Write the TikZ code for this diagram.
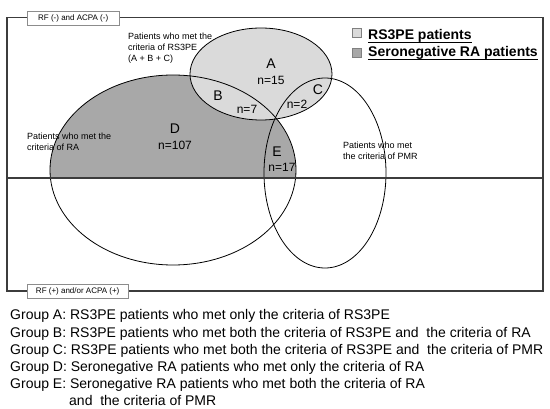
\documentclass[tikz,border=0pt]{standalone}
\usepackage{fontspec}
\setmainfont{Liberation Sans}
\definecolor{lightfill}{HTML}{DADADA}
\definecolor{darkfill}{HTML}{A8A8A8}
\definecolor{framegray}{HTML}{3C3C3C}
\definecolor{boxgray}{HTML}{8C8C8C}
\begin{document}
\begin{tikzpicture}[x=1pt,y=-1pt,
  venn/.style={draw=black, line width=0.8pt},
  tag/.style={draw=boxgray, fill=white, font=\fontsize{8}{9.6}\selectfont, inner sep=0pt, minimum height=14pt, anchor=west},
  small/.style={font=\fontsize{9}{11}\selectfont, align=left, inner sep=0pt, anchor=north west},
  big/.style={font=\fontsize{14}{16}\selectfont, inner sep=0pt},
  count/.style={font=\fontsize{12}{14}\selectfont, inner sep=0pt},
  grp/.style={font=\fontsize{14}{17}\selectfont, inner sep=0pt, anchor=base west},
  legtxt/.style={font=\bfseries\fontsize{14}{16}\selectfont, inner sep=0pt, anchor=base west},
  legbox/.style={draw=gray, minimum size=9pt, inner sep=0pt, anchor=north west}]
\useasboundingbox (0,0) rectangle (550,409);
% fills
\begin{scope}
  \clip (7,17) rectangle (543,178);
  \fill[darkfill] (173,170) ellipse [x radius=123, y radius=95];
\end{scope}
\fill[lightfill] (261,74) ellipse [x radius=71, y radius=46];
% outlines
\draw[venn] (173,170) ellipse [x radius=123, y radius=95];
\draw[venn] (261,74) ellipse [x radius=71, y radius=46];
\draw[venn] (325,173) ellipse [x radius=61, y radius=95];
% frame
\draw[framegray, line width=1.2pt] (7,17.5) rectangle (543,291);
\draw[framegray, line width=2.2pt] (7,178) -- (543,178);
% tags
\node[tag, minimum width=92pt] (neg) at (27,18) {RF (-) and ACPA (-)};
\node[tag, minimum width=101pt] (pos) at (27,291) {RF (+) and/or ACPA (+)};
% legend
\node[legbox, fill=lightfill] (k1) at (352,28) {};
\node[legbox, fill=darkfill] (k2) at (352,48) {};
\node[legtxt] (l1) at (368,39.5) {RS3PE patients};
\node[legtxt] (l2) at (368,56.5) {Seronegative RA patients};
\draw[line width=1.1pt] ([yshift=-2.6pt]l1.base west) -- ([yshift=-2.6pt]l1.base east);
\draw[line width=1.1pt] ([yshift=-2.6pt]l2.base west) -- ([yshift=-2.6pt]l2.base east);
% set descriptions
\node[small] (rs) at (128,33) {Patients who met the\\criteria of RS3PE\\(A + B + C)};
\node[small] (ra) at (27,132.5) {Patients who met the\\criteria of RA};
\node[small] (pmr) at (343,141.5) {Patients who met\\the criteria of PMR};
% regions
\node[big] (A) at (271,64) {A};
\node[count] (nA) at (271,80) {n=15};
\node[big] (B) at (218,96) {B};
\node[count] (nB) at (247,109) {n=7};
\node[big] (C) at (318,90) {C};
\node[count] (nC) at (297,104) {n=2};
\node[big] (D) at (175,129) {D};
\node[count] (nD) at (175,145) {n=107};
\node[big] (E) at (277,152) {E};
\node[count] (nE) at (282,167) {n=17};
% group list
\node[grp] (ga) at (10,320) {Group A: RS3PE patients who met only the criteria of RS3PE};
\node[grp] (gb) at (10,338) {Group B: RS3PE patients who met both the criteria of RS3PE and\ \ the criteria of RA};
\node[grp] (gc) at (10,355) {Group C: RS3PE patients who met both the criteria of RS3PE and\ \ the criteria of PMR};
\node[grp] (gd) at (10,372) {Group D: Seronegative RA patients who met only the criteria of RA};
\node[grp] (ge) at (10,389) {Group E: Seronegative RA patients who met both the criteria of RA};
\node[grp] (ge2) at (69,406) {and\ \ the criteria of PMR};
\end{tikzpicture}
\end{document}
